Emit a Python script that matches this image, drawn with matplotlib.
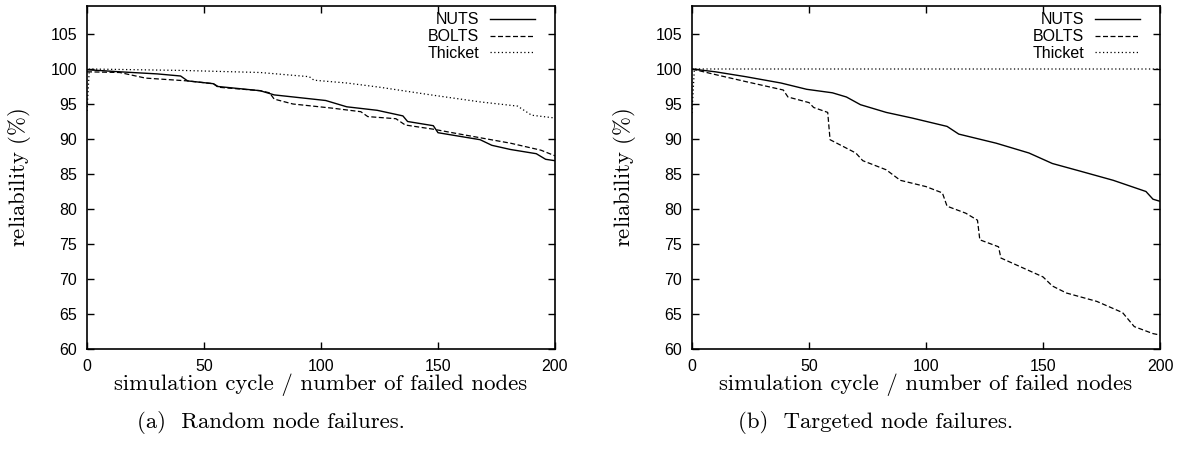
import matplotlib
matplotlib.use("Agg")
import matplotlib.pyplot as plt

plt.rcParams["mathtext.fontset"] = "cm"

# (a) random node failures: waypoints (cycle, reliability %)
rand_nuts_x = [0, 14, 30, 40, 43, 54, 56, 74, 80, 102, 111, 124, 135, 137, 148, 150, 168, 173, 181, 192, 196, 200]
rand_nuts_y = [99.9, 99.6, 99.3, 99.0, 98.3, 97.9, 97.5, 96.9, 96.3, 95.5, 94.6, 94.1, 93.3, 92.5, 91.9, 90.9, 89.9, 89.1, 88.5, 87.9, 87.1, 86.9]
rand_bolts_x = [0, 14, 25, 43, 54, 56, 74, 78, 80, 88, 105, 117, 120, 132, 136, 148, 161, 181, 194, 200]
rand_bolts_y = [99.6, 99.5, 98.7, 98.3, 97.9, 97.4, 96.9, 96.6, 95.7, 95.0, 94.4, 93.9, 93.2, 92.9, 92.0, 91.4, 90.6, 89.4, 88.4, 87.6]
rand_thicket_x = [0, 1, 40, 74, 95, 97, 111, 125, 147, 168, 184, 190, 200]
rand_thicket_y = [94.0, 100.0, 99.8, 99.5, 98.9, 98.4, 98.0, 97.4, 96.3, 95.3, 94.7, 93.4, 93.0]

# (b) targeted node failures
targ_nuts_x = [0, 10, 23, 38, 49, 60, 66, 72, 83, 94, 109, 114, 130, 144, 154, 166, 180, 194, 197, 200]
targ_nuts_y = [100.0, 99.6, 98.9, 98.0, 97.1, 96.6, 96.0, 94.9, 93.8, 93.0, 91.8, 90.7, 89.4, 88.0, 86.5, 85.4, 84.1, 82.5, 81.4, 81.1]
targ_bolts_x = [0, 10, 23, 39, 41, 50, 52, 58, 59, 70, 73, 83, 89, 100, 107, 109, 117, 122, 123, 131, 132, 150, 154, 160, 173, 184, 189, 197, 200]
targ_bolts_y = [100.0, 99.2, 98.2, 97.0, 96.0, 95.2, 94.5, 93.8, 89.9, 88.0, 86.9, 85.6, 84.1, 83.2, 82.3, 80.4, 79.4, 78.4, 75.6, 74.6, 73.0, 70.3, 69.0, 68.0, 66.8, 65.2, 63.2, 62.2, 62.0]
targ_thicket_x = [0, 1, 200]
targ_thicket_y = [93.7, 100.0, 100.0]

panels = [
    ("(a)  Random node failures.",
     (rand_nuts_x, rand_nuts_y), (rand_bolts_x, rand_bolts_y), (rand_thicket_x, rand_thicket_y)),
    ("(b)  Targeted node failures.",
     (targ_nuts_x, targ_nuts_y), (targ_bolts_x, targ_bolts_y), (targ_thicket_x, targ_thicket_y)),
]

W, H = 1186, 449
fig = plt.figure(figsize=(W / 100, H / 100), dpi=100)

lefts = [87, 692]
for left, (caption, nuts, bolts, thicket) in zip(lefts, panels):
    ax = fig.add_axes([left / W, 1 - 349 / H, 468 / W, 343 / H])
    ax.plot(*nuts, color="black", lw=1.0, label="NUTS")
    ax.plot(*bolts, color="black", lw=0.9, ls=(0, (4, 2)), label="BOLTS")
    ax.plot(*thicket, color="black", lw=0.9, ls=(0, (1, 2)), label="Thicket")
    ax.set_xlim(0, 200)
    ax.set_ylim(60, 109)
    ax.set_xticks(range(0, 201, 50))
    ax.set_yticks(range(60, 106, 5))
    ax.tick_params(direction="in", top=True, right=True, length=5, width=1,
                   labelsize=11.5, pad=7)
    for lab in ax.get_xticklabels() + ax.get_yticklabels():
        lab.set_fontfamily("Liberation Sans")
    for s in ax.spines.values():
        s.set_linewidth(1.2)
    ax.set_xlabel("simulation cycle / number of failed nodes", fontfamily="cmr10",
                  fontsize=16.4, labelpad=0)
    ax.set_ylabel(r"reliability $(\%)$", fontfamily="cmr10", fontsize=16.4,
                  labelpad=13)
    ax.legend(loc="upper right", bbox_to_anchor=(0.957, 0.982), frameon=False,
              markerfirst=False, handlelength=2.8, handletextpad=0.7,
              labelspacing=0.12, borderpad=0, borderaxespad=0,
              prop={"family": "Liberation Sans", "size": 11.5})
    cx = (left + 234 - 50) / W
    fig.text(cx, 1 - 423 / H, caption, ha="center", va="center",
             fontfamily="cmr10", fontsize=16.4)

fig.savefig("out.png", dpi=100)
